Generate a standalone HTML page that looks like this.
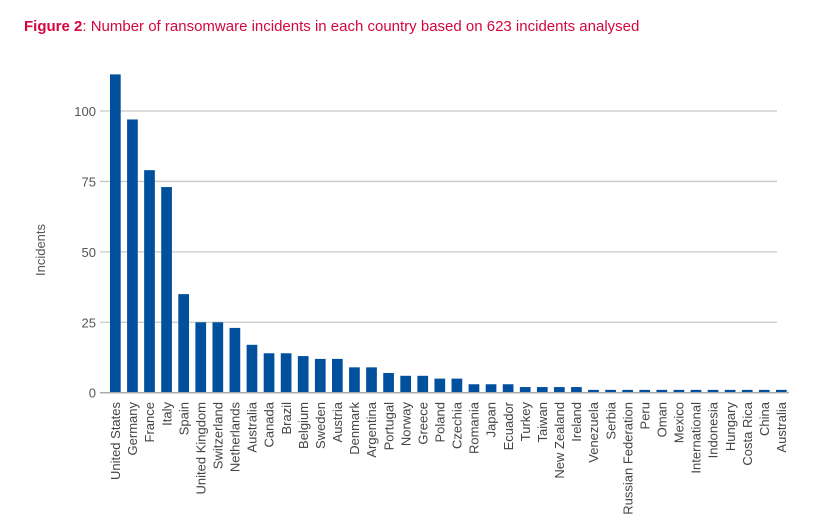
<!DOCTYPE html>
<html><head><meta charset="utf-8"><style>
body{margin:0;background:#fff;width:827px;height:527px;overflow:hidden;font-family:"Liberation Sans",sans-serif}
#title{position:absolute;left:24px;top:18px;font-size:15px;color:#d4063d}
</style></head><body>
<div id="title"><b>Figure 2</b>: Number of ransomware incidents in each country based on 623 incidents analysed</div>
<svg id="chart" width="827" height="527" style="position:absolute;left:0;top:0"></svg>
<script>
const categories=["United States","Germany","France","Italy","Spain","United Kingdom","Switzerland","Netherlands","Australia","Canada","Brazil","Belgium","Sweden","Austria","Denmark","Argentina","Portugal","Norway","Greece","Poland","Czechia","Romania","Japan","Ecuador","Turkey","Taiwan","New Zealand","Ireland","Venezuela","Serbia","Russian Federation","Peru","Oman","Mexico","International","Indonesia","Hungary","Costa Rica","China","Australia"];
const values=[113,97,79,73,35,25,25,23,17,14,14,13,12,12,9,9,7,6,6,5,5,3,3,3,2,2,2,2,1,1,1,1,1,1,1,1,1,1,1,1];
const yTicks=[0,25,50,75,100];
const NS="http://www.w3.org/2000/svg";
const svg=document.getElementById('chart');
const y0=392.7, pxPer=2.817;
const y=v=>y0-v*pxPer;
const x0=110, step=(776-110)/(categories.length-1), bw=10.7;
const x=i=>x0+i*step;
function mk(t,a){const e=document.createElementNS(NS,t);for(const k in a)e.setAttribute(k,a[k]);svg.appendChild(e);return e;}
yTicks.forEach(t=>{
  const l=mk('line',{x1:100,x2:777,y1:y(t),y2:y(t),stroke:t===0?'#aaa':'#c8c8c8','stroke-width':1.3});
  
  
  const tx=mk('text',{x:96,y:y(t)+5,'text-anchor':'end','font-size':13,fill:'#555'});
  tx.textContent=t;
  
  
});
categories.forEach((c,i)=>{
  const r=mk('rect',{x:x(i),y:y(values[i]),width:bw,height:values[i]*pxPer,fill:'#00509e'});
  
  
  const cx=x(i)+bw/2+4.7;
  const t=mk('text',{x:0,y:0,'text-anchor':'end','font-size':13,fill:'#444',transform:`translate(${cx},402) rotate(-90)`});
  t.textContent=c;
  
  
});
const bl=mk('line',{x1:100,x2:789,y1:y0,y2:y0,stroke:'#aaa','stroke-width':1.3});


const yt=mk('text',{x:0,y:0,'text-anchor':'middle','font-size':13,fill:'#555',transform:'translate(45,250) rotate(-90)'});
yt.textContent='Incidents';


</script>
</body></html>
